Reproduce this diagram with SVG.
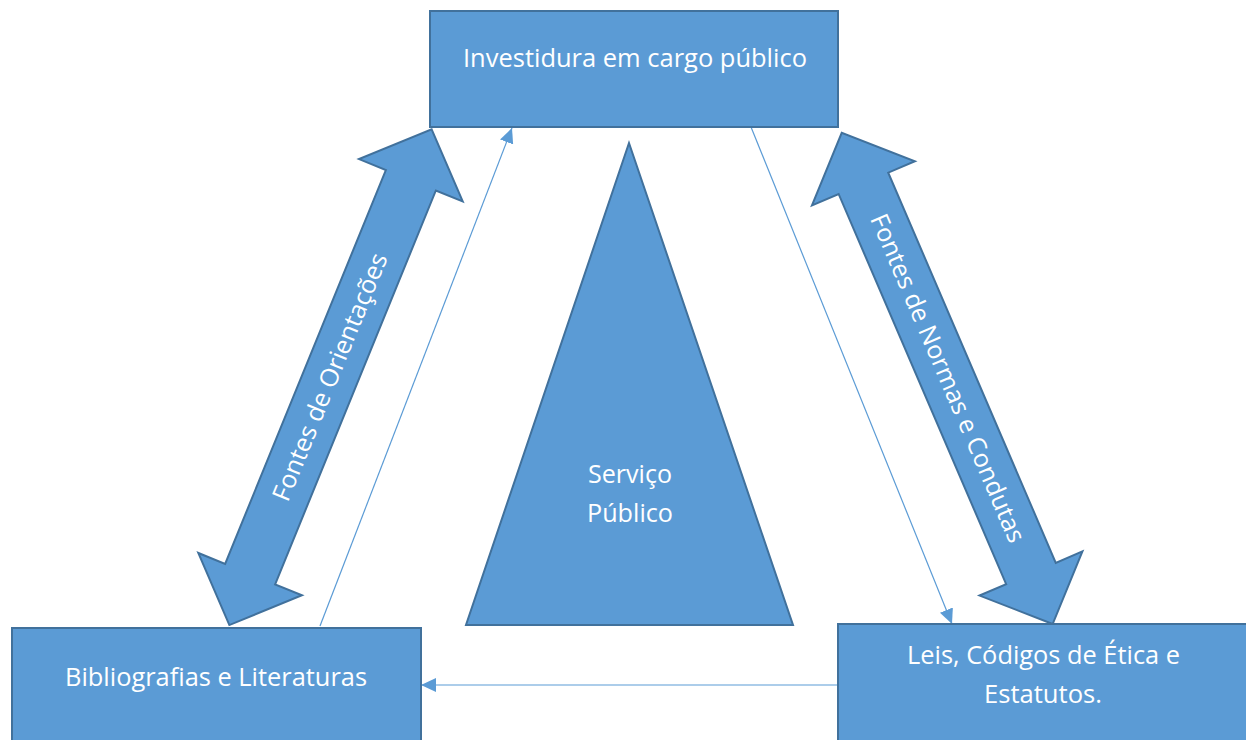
<svg xmlns="http://www.w3.org/2000/svg" width="1246" height="740" viewBox="0 0 1246 740">
  <style>
    .shape { fill: #5B9BD5; stroke: #41719C; stroke-width: 2; }
    .lbl { fill: #FFFFFF; font-family: "Open Sans", "Noto Sans", "DejaVu Sans", sans-serif; font-size: 25px; text-anchor: middle; }
    .conn { fill: none; stroke: #5B9BD5; stroke-width: 1.2; }
  </style>
  <defs>
    <marker id="ah" markerWidth="15" markerHeight="14" refX="15" refY="7" orient="auto" markerUnits="userSpaceOnUse">
      <path d="M0,0 L15,7 L0,14 z" fill="#5B9BD5"/>
    </marker>
  </defs>
  <rect width="1246" height="740" fill="#FFFFFF"/>

  <g id="connectors">
    <path class="conn" d="M320,626 L512,128" marker-end="url(#ah)"/>
    <path class="conn" d="M751,127 L952,624" marker-end="url(#ah)"/>
    <path class="conn" d="M838,685 L421,685" marker-end="url(#ah)"/>
  </g>

  <g id="arrow-orientacoes" transform="translate(330.5,377.2) rotate(-67.8)">
    <polygon class="shape" points="267.7,0 212.7,56 212.7,27 -212.7,27 -212.7,56 -267.7,0 -212.7,-56 -212.7,-27 212.7,-27 212.7,-56"/>
    <text class="lbl" x="0" y="8" textLength="265" lengthAdjust="spacingAndGlyphs">Fontes de Orientações</text>
  </g>

  <g id="arrow-normas" transform="translate(947.2,378.4) rotate(66.76)">
    <polygon class="shape" points="267.3,0 212.3,56 212.3,27 -212.3,27 -212.3,56 -267.3,0 -212.3,-56 -212.3,-27 212.3,-27 212.3,-56"/>
    <text class="lbl" x="0" y="8" textLength="355" lengthAdjust="spacingAndGlyphs">Fontes de Normas e Condutas</text>
  </g>

  <g id="node-investidura">
    <rect class="shape" x="430" y="11" width="408" height="116"/>
    <text class="lbl" x="635" y="67" textLength="344" lengthAdjust="spacingAndGlyphs">Investidura em cargo público</text>
  </g>

  <g id="node-servico">
    <polygon class="shape" points="629,143 466,625 793,625"/>
    <text class="lbl" x="630" y="483" textLength="84" lengthAdjust="spacingAndGlyphs">Serviço</text>
    <text class="lbl" x="630" y="522" textLength="86" lengthAdjust="spacingAndGlyphs">Público</text>
  </g>

  <g id="node-bibliografias">
    <rect class="shape" x="12" y="628" width="409" height="120"/>
    <text class="lbl" x="216" y="686" textLength="302" lengthAdjust="spacingAndGlyphs">Bibliografias e Literaturas</text>
  </g>

  <g id="node-leis">
    <rect class="shape" x="838" y="624" width="412" height="124"/>
    <text class="lbl" x="1043.5" y="664" textLength="273" lengthAdjust="spacingAndGlyphs">Leis, Códigos de Ética e</text>
    <text class="lbl" x="1043" y="703" textLength="118" lengthAdjust="spacingAndGlyphs">Estatutos.</text>
  </g>
</svg>
